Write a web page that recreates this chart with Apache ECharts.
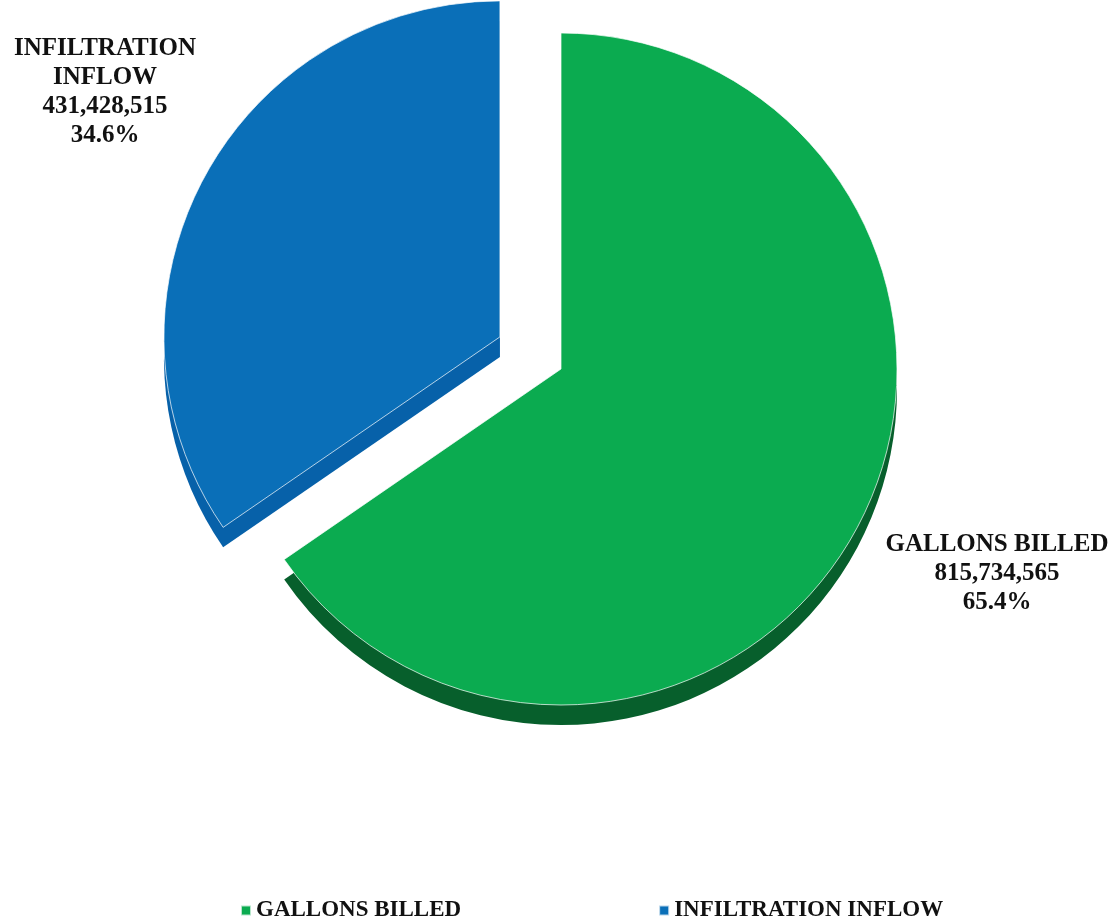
<!DOCTYPE html>
<html>
<head>
<meta charset="utf-8">
<script src="https://cdn.jsdelivr.net/npm/echarts@6/dist/echarts.min.js"></script>
<style>
  html, body { margin: 0; padding: 0; background: #fff; }
  #main { width: 1115px; height: 923px; }
</style>
</head>
<body>
<div id="main"></div>
<script>
var names = ['GALLONS BILLED', 'INFILTRATION INFLOW']
var values = [815734565, 431428515]
var topColors = ['#0BAB50', '#0A6FB8']
var sideColors = ['#075F2C', '#0761A9']

var chart = echarts.init(document.getElementById('main'))

function buildData (colors) {
  return names.map(function (n, i) {
    return {
      name: n,
      value: values[i],
      selected: i === 1,
      itemStyle: { color: colors[i] }
    }
  })
}

// slice labels, positioned by hand like the original
var total = values[0] + values[1]
var labelPos = [[997, 574], [105, 92]]
var labels = names.map(function (n, i) {
  var name = i === 1 ? n.replace(' ', '\n') : n
  var pct = (values[i] / total * 100).toFixed(1) + '%'
  return {
    type: 'text',
    x: labelPos[i][0],
    y: labelPos[i][1],
    z: 10,
    style: {
      text: name + '\n' + values[i].toLocaleString('en-US') + '\n' + pct,
      font: 'bold 25px "Liberation Serif"',
      lineHeight: 29,
      fill: '#111',
      align: 'center',
      verticalAlign: 'middle'
    }
  }
})

var option = {
  animation: false,
  graphic: labels,
  legend: {
    bottom: -4,
    left: 235,
    icon: 'rect',
    itemWidth: 10,
    itemHeight: 10,
    itemGap: 197,
    selectedMode: false,
    data: names,
    textStyle: {
      fontFamily: 'Liberation Serif',
      fontWeight: 'bold',
      fontSize: 23,
      color: '#111'
    }
  },
  series: [
    {
      // top face
      type: 'pie',
      z: 3,
      center: [561, 369],
      radius: 336,
      startAngle: 90,
      selectedMode: 'single',
      selectedOffset: 69,
      silent: true,
      itemStyle: { borderColor: 'rgba(255,255,255,0.7)', borderWidth: 1 },
      label: { show: false },
      labelLine: { show: false },
      data: buildData(topColors)
    },
    {
      // extruded side
      type: 'pie',
      z: 1,
      center: [561, 389],
      radius: 336,
      startAngle: 90,
      selectedMode: 'single',
      selectedOffset: 69,
      silent: true,
      label: { show: false },
      labelLine: { show: false },
      data: buildData(sideColors)
    }
  ]
}

chart.setOption(option)
</script>
</body>
</html>
